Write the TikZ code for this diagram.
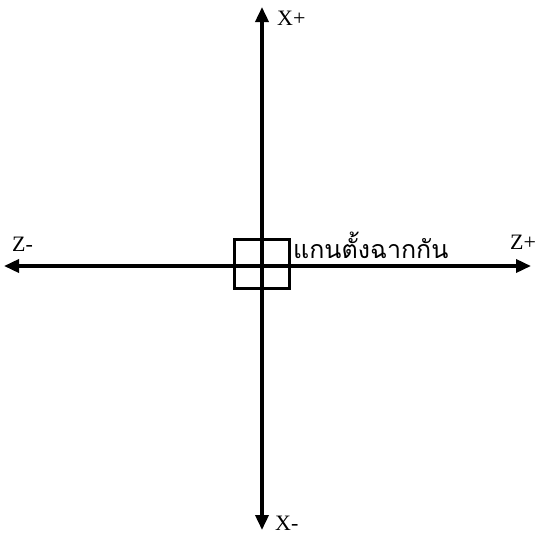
\documentclass[tikz,border=0pt]{standalone}
\usepackage{fontspec}
\setmainfont{Liberation Serif}
\newfontfamily\thaifont[Script=Thai]{Loma}
\usetikzlibrary{arrows.meta}

\begin{document}
\begin{tikzpicture}[x=1pt,y=-1pt,
 axis/.style={{Triangle[length=15pt,width=13pt]}-{Triangle[length=15pt,width=13pt]},
 line width=3.5pt},
 lbl/.style={font=\fontsize{22}{25}\selectfont,inner sep=0pt},
 origin/.style={draw,line width=3.5pt,minimum width=55pt,minimum height=49pt,inner sep=0pt}]
\useasboundingbox (0,0) rectangle (541,536);
% axis ends
\coordinate (xp) at (262,7);
\coordinate (xm) at (262,530);
\coordinate (zm) at (4,266);
\coordinate (zp) at (531,266);
\draw[axis] (xm)--(xp);
\draw[axis] (zm)--(zp);
\node[origin] (o) at (262,264) {};
% labels
\node[lbl,anchor=base west] (xplbl) at (277,25) {X+};
\node[lbl,anchor=base west] (xmlbl) at (275,530) {X-};
\node[lbl,anchor=base west] (zmlbl) at (12,251) {Z-};
\node[lbl,anchor=base west] (zplbl) at (510,249) {Z+};
\node[lbl,anchor=base west,font=\thaifont\fontsize{25}{28}\selectfont] (olbl) at (293,258) {แกนตั้งฉากกัน};
\end{tikzpicture}
\end{document}
